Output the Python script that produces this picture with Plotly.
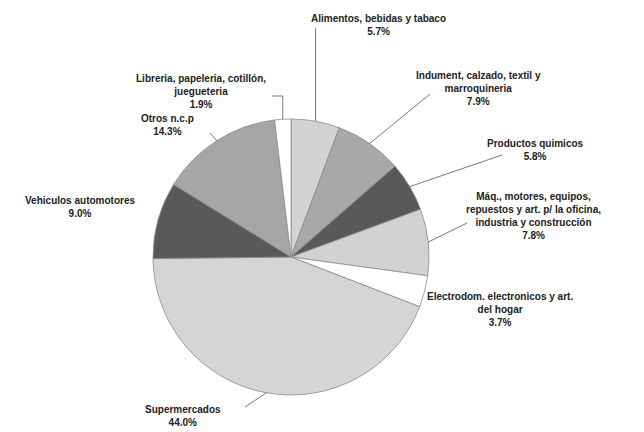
import math
import plotly.graph_objects as go

# Category shares (%), clockwise from 12 o'clock
categories = [
    "Alimentos, bebidas y tabaco",
    "Indument, calzado, textil y marroquineria",
    "Productos quimicos",
    "Máq., motores, equipos, repuestos y art. p/ la oficina, industria y construcción",
    "Electrodom. electronicos y art. del hogar",
    "Supermercados",
    "Vehiculos automotores",
    "Otros n.c.p",
    "Libreria, papeleria, cotillón, juegueteria",
]
shares = [5.7, 7.9, 5.8, 7.8, 3.7, 44.0, 9.0, 14.3, 1.9]

# Label text as drawn (line breaks included)
label_lines = [
    ["Alimentos, bebidas y tabaco"],
    ["Indument, calzado, textil y", "marroquineria"],
    ["Productos quimicos"],
    ["Máq., motores, equipos,", "repuestos y art. p/ la oficina,", "industria y construcción"],
    ["Electrodom. electronicos y art.", "del hogar"],
    ["Supermercados"],
    ["Vehiculos automotores"],
    ["Otros n.c.p"],
    ["Libreria, papeleria, cotillón,", "juegueteria"],
]

colors = ["#d3d3d5", "#a8a8aa", "#59595b", "#d2d2d4", "#ffffff",
          "#d5d5d7", "#59595b", "#a6a6a8", "#ffffff"]

W, H = 644, 432
CX, CY, R = 291, 257, 138

# Label anchor positions (pixels) and leader-line elbows (None = no leader)
label_pos = [(378, 25), (478, 88), (535, 150), (533, 216), (500, 309),
             (183, 416), (80, 207), (167, 125), (201, 91)]
leader_end = [(316, 28), (430, 94), (502, 155), (467, 223), None,
              (245, 407), None, (210, 133), (272, 96)]


def px(x):
    return x / W


def py(y):
    return 1 - y / H


fig = go.Figure(go.Pie(
    labels=categories,
    values=shares,
    sort=False,
    direction="clockwise",
    rotation=0,
    marker=dict(colors=colors, line=dict(color="#8a8a8c", width=0.8)),
    textinfo="none",
    hoverinfo="label+percent",
    showlegend=False,
    domain=dict(x=[px(CX - R), px(CX + R)], y=[py(CY + R), py(CY - R)]),
))

annotations = []
shapes = []
cum = 0.0
total = sum(shares)
for i, v in enumerate(shares):
    mid = (cum + v / 2) / total * 2 * math.pi
    cum += v
    text = "<br>".join(label_lines[i] + [f"{v:.1f}%"])
    lx, ly = label_pos[i]
    annotations.append(dict(
        x=px(lx), y=py(ly), xref="paper", yref="paper",
        text=text, showarrow=False, xanchor="center", yanchor="middle",
        align="center",
        font=dict(family="Liberation Sans, Arial, sans-serif", size=10,
                  color="#222222", weight="bold"),
    ))
    if leader_end[i] is not None:
        ex = CX + R * math.sin(mid)
        ey = CY - R * math.cos(mid)
        tx, ty = leader_end[i]
        if i == 8:
            # elbow: down from the slice edge then a short horizontal tick
            pts = [(ex, ey), (ex, ty), (tx, ty)]
        elif i == 0:
            pts = [(ex, ey), (ex, ty)]
        else:
            pts = [(ex, ey), (tx, ty)]
        for (x0, y0), (x1, y1) in zip(pts[:-1], pts[1:]):
            shapes.append(dict(type="line", xref="paper", yref="paper",
                               x0=px(x0), y0=py(y0), x1=px(x1), y1=py(y1),
                               line=dict(color="#555555", width=0.8)))

fig.update_layout(
    width=W, height=H,
    margin=dict(l=0, r=0, t=0, b=0),
    paper_bgcolor="white",
    plot_bgcolor="white",
    annotations=annotations,
    shapes=shapes,
)

fig.write_html("out.html")
